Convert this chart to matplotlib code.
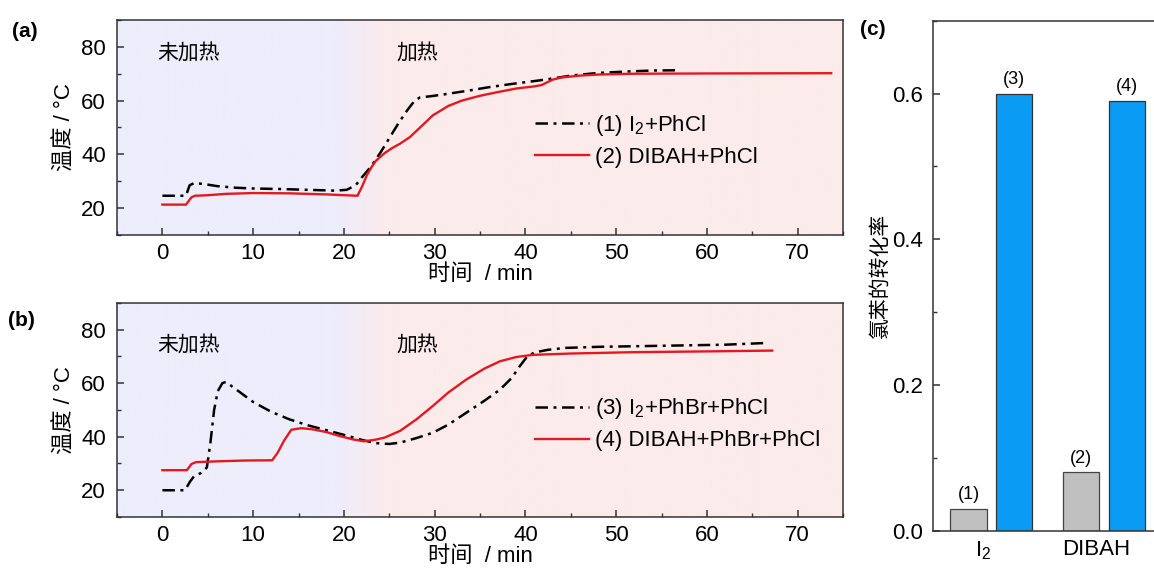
"""Temperature profiles of the four runs (a, b) and chlorobenzene conversion (c)."""

import matplotlib

matplotlib.use("Agg")
import matplotlib.pyplot as plt  # noqa: E402
import numpy as np  # noqa: E402
from matplotlib.colors import to_rgb  # noqa: E402
from matplotlib.ticker import FormatStrFormatter, MultipleLocator  # noqa: E402

plt.rcParams["font.family"] = ["Liberation Sans", "Noto Sans CJK SC", "DejaVu Sans"]
plt.rcParams["mathtext.fontset"] = "custom"
plt.rcParams["mathtext.rm"] = "Liberation Sans"
plt.rcParams["mathtext.it"] = "Liberation Sans:italic"
plt.rcParams["axes.unicode_minus"] = False

# ---- data -------------------------------------------------------------
# (a) run 1: I2 + PhCl
t1 = [0, 2.6, 3.0, 3.5, 4.5, 6, 8, 10, 13, 16, 19, 20.3, 21.3, 22.0, 23.0, 24.0,
      25.0, 26.0, 27.0, 27.8, 28.4, 29.5, 31, 33.5, 36, 38.5, 41.5, 43.5, 45, 48,
      51, 54, 57]
T1 = [24.6, 24.6, 28.5, 29.3, 29.0, 28.2, 27.6, 27.3, 27.1, 26.8, 26.5, 26.8,
      28.5, 31.5, 35.5, 40.5, 46.0, 51.5, 56.5, 60.0, 61.2, 61.6, 62.3, 63.6,
      65.0, 66.2, 67.5, 68.5, 69.3, 70.3, 70.8, 71.2, 71.3]
# (a) run 2: DIBAH + PhCl
t2 = [0, 2.6, 3.2, 3.6, 5, 7, 10, 14, 18, 21.5, 22.0, 22.5, 23.0, 23.5, 24.5,
      25.3, 26.2, 27.3, 28.4, 29.8, 31.5, 33, 35, 37, 39, 41, 41.8, 43, 44, 46,
      48, 52, 60, 73.7]
T2 = [21.3, 21.3, 24.0, 24.6, 24.8, 25.3, 25.6, 25.5, 25.1, 24.6, 28.0, 32.0,
      35.0, 37.5, 40.5, 42.3, 44.0, 46.5, 50.0, 54.5, 58.0, 60.0, 61.8, 63.2,
      64.5, 65.3, 65.8, 67.8, 68.6, 69.3, 69.7, 70.0, 70.1, 70.2]
# (b) run 3: I2 + PhBr + PhCl
t3 = [0, 2.5, 3.0, 3.5, 4.3, 4.9, 5.3, 5.7, 6.1, 6.6, 7.0, 8, 10, 12, 14, 16, 18,
      20, 22, 23.5, 25, 26.2, 28, 29.8, 31.5, 33.5, 35.5, 37.2, 38.5, 39.3, 40.2,
      41, 42.5, 44.4, 48, 55, 62, 66.2]
T3 = [20.0, 20.0, 23.0, 25.3, 26.5, 28.5, 38.0, 50.0, 57.0, 60.0, 60.5, 58.0,
      53.0, 49.3, 46.5, 44.3, 42.5, 40.7, 38.8, 37.6, 37.3, 37.8, 39.5, 41.5,
      44.5, 49.0, 53.5, 57.6, 62.0, 66.0, 70.0, 71.5, 72.5, 73.2, 73.6, 74.0,
      74.4, 75.0]
# (b) run 4: DIBAH + PhBr + PhCl
t4 = [0, 2.7, 3.2, 3.7, 6, 9, 12.1, 12.7, 13.4, 14.2, 15.3, 16.5, 18, 19.5, 21,
      22.2, 23.5, 24.5, 26.2, 28, 29.8, 31.5, 33.5, 35.5, 37.2, 39, 40.8, 45,
      51.8, 60, 67.2]
T4 = [27.5, 27.5, 29.8, 30.5, 30.8, 31.1, 31.2, 34.0, 38.5, 42.6, 43.2, 42.8,
      41.8, 40.3, 39.0, 38.3, 38.9, 39.7, 42.2, 46.5, 51.5, 56.5, 61.4, 65.5,
      68.2, 69.8, 70.6, 71.1, 71.6, 71.9, 72.2]

labels_a = ["(1) I$_\\mathregular{2}$+PhCl", "(2) DIBAH+PhCl"]
labels_b = ["(3) I$_\\mathregular{2}$+PhBr+PhCl", "(4) DIBAH+PhBr+PhCl"]

# (c) conversion of chlorobenzene
groups = ["I$_\\mathregular{2}$", "DIBAH"]
conv_without_phbr = [0.03, 0.08]   # runs (1), (2)
conv_with_phbr = [0.60, 0.59]      # runs (3), (4)
tags_without = ["(1)", "(2)"]
tags_with = ["(3)", "(4)"]

# ---- style ------------------------------------------------------------
RED = "#E3191F"
BLUE = "#0A9CF5"
GREY = "#C0C0C0"
LAVENDER = "#EDEDFB"
PINK = "#FCEBEB"
DASHDOT = (0, (5, 2.2, 1.2, 2.2))
FS = 16


def _style_axes(ax):
    for s in ax.spines.values():
        s.set_linewidth(1.1)
        s.set_color("#333333")
    ax.tick_params(which="both", direction="in", labelsize=FS, color="#333333")
    ax.tick_params(which="major", length=5, width=1.1)
    ax.tick_params(which="minor", length=3, width=1.0)


def _heat_background(ax, x0=19.0, x1=25.0):
    xs = np.linspace(-5, 75, 800)
    w = np.clip((xs - x0) / (x1 - x0), 0, 1)[:, None]
    c = (1 - w) * np.array(to_rgb(LAVENDER)) + w * np.array(to_rgb(PINK))
    ax.imshow(c[None, :, :], extent=(-5, 75, 10, 90), aspect="auto", zorder=0)


def _temp_panel(ax, ta, Ta, tb, Tb, labels, leg_y, txt_y):
    _heat_background(ax)
    ax.plot(ta, Ta, color="black", lw=1.8, ls=DASHDOT, label=labels[0], zorder=3)
    ax.plot(tb, Tb, color=RED, lw=1.7, label=labels[1], zorder=3)
    ax.set_xlim(-5, 75)
    ax.set_ylim(10, 90)
    ax.xaxis.set_major_locator(MultipleLocator(10))
    ax.xaxis.set_minor_locator(MultipleLocator(5))
    ax.yaxis.set_major_locator(MultipleLocator(20))
    ax.yaxis.set_minor_locator(MultipleLocator(10))
    _style_axes(ax)
    ax.tick_params(axis="x", pad=6)
    ax.tick_params(axis="y", pad=8)
    ax.set_xlabel("时间  / min", fontsize=FS, labelpad=0)
    ax.set_ylabel("温度 / °C", fontsize=FS, labelpad=4)
    ax.text(-0.6, txt_y, "未加热", fontsize=15, va="center", ha="left", zorder=4)
    ax.text(25.8, txt_y, "加热", fontsize=15, va="center", ha="left", zorder=4)
    ax.legend(loc="center left", bbox_to_anchor=(0.576, leg_y), frameon=False,
              fontsize=FS, handlelength=2.4, handletextpad=0.3, labelspacing=0.4,
              borderpad=0, borderaxespad=0)


fig = plt.figure(figsize=(11.54, 5.68), dpi=100)

ax_a = fig.add_axes([0.1014, 0.5863, 0.6291, 0.3785])
_temp_panel(ax_a, t1, T1, t2, T2, labels_a, 0.44, 78)

ax_b = fig.add_axes([0.1014, 0.0898, 0.6291, 0.3768])
_temp_panel(ax_b, t3, T3, t4, T4, labels_b, 0.435, 74.5)

# (c) bars, axes runs past the right edge like the original crop
ax_c = fig.add_axes([0.8085, 0.0657, 0.2020, 0.8979])
x = np.arange(len(groups))
bw = 0.32
b1 = ax_c.bar(x - 0.2, conv_without_phbr, bw, color=GREY, edgecolor="#444444", lw=0.9)
b2 = ax_c.bar(x + 0.2, conv_with_phbr, bw, color=BLUE, edgecolor="#333333", lw=0.9)
for bars, tags in ((b1, tags_without), (b2, tags_with)):
    for rect, tag in zip(bars, tags):
        ax_c.text(rect.get_x() + rect.get_width() / 2, rect.get_height() + 0.008, tag,
                  ha="center", va="bottom", fontsize=13)
ax_c.set_xlim(-0.514, 1.55)
ax_c.set_ylim(0, 0.7)
ax_c.set_xticks(x - 0.07)
ax_c.set_xticklabels(groups)
ax_c.yaxis.set_major_locator(MultipleLocator(0.2))
ax_c.yaxis.set_minor_locator(MultipleLocator(0.1))
ax_c.yaxis.set_major_formatter(FormatStrFormatter("%.1f"))
_style_axes(ax_c)
ax_c.tick_params(axis="x", length=0, pad=6)
ax_c.tick_params(axis="y", pad=7)
ax_c.set_ylabel("氯苯的转化率", fontsize=15, labelpad=2)

fig.text(0.010, 0.962, "(a)", fontsize=15, fontweight="bold", va="top")
fig.text(0.007, 0.452, "(b)", fontsize=15, fontweight="bold", va="top")
fig.text(0.745, 0.965, "(c)", fontsize=15, fontweight="bold", va="top")

fig.savefig("out.png", dpi=100)
